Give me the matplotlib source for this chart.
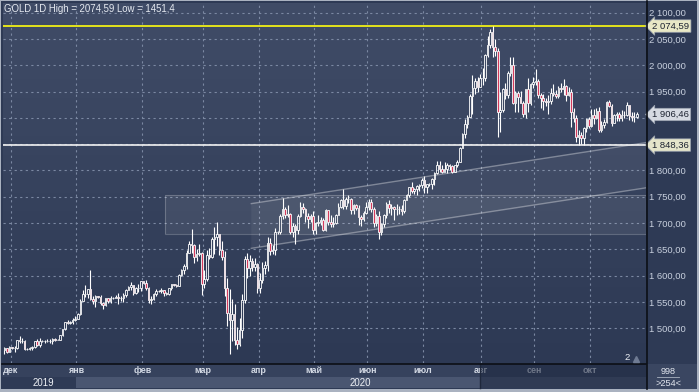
import numpy as np
import matplotlib.pyplot as plt
from matplotlib.patches import Rectangle, Polygon
from matplotlib.lines import Line2D
from matplotlib.colors import LinearSegmentedColormap
import matplotlib.transforms as mtransforms

plt.rcParams['font.family'] = ['Liberation Sans', 'DejaVu Sans']

# daily bars, 26 Nov 2019 .. 27 Oct 2020 (open = previous close)
first_open = 1459
closes = [
    1462, 1455, 1464, 1463, 1463, 1477, 1475, 1476, 1460, 1461,
    1462, 1465, 1475, 1469, 1476, 1475, 1476, 1475, 1475, 1479,
    1478, 1478, 1487, 1498, 1511, 1510, 1512, 1515, 1517, 1528,
    1552, 1566, 1566, 1574, 1556, 1552, 1562, 1560, 1548, 1545,
    1557, 1552, 1557, 1558, 1560, 1558, 1558, 1563, 1572, 1578,
    1582, 1567, 1576, 1576, 1589, 1586, 1577, 1553, 1556, 1566,
    1570, 1571, 1572, 1567, 1565, 1576, 1584, 1582, 1581, 1601,
    1611, 1619, 1643, 1660, 1658, 1636, 1642, 1643, 1585, 1594,
    1640, 1636, 1669, 1673, 1679, 1649, 1635, 1576, 1529, 1515,
    1527, 1478, 1471, 1497, 1553, 1631, 1614, 1628, 1616, 1622,
    1577, 1591, 1614, 1620, 1662, 1647, 1648, 1683, 1683, 1713,
    1727, 1716, 1717, 1683, 1695, 1686, 1714, 1730, 1726, 1713,
    1707, 1713, 1686, 1700, 1702, 1705, 1686, 1725, 1702, 1698,
    1701, 1716, 1730, 1743, 1733, 1745, 1746, 1724, 1735, 1729,
    1711, 1708, 1719, 1730, 1740, 1727, 1700, 1714, 1683, 1698,
    1715, 1737, 1728, 1731, 1726, 1727, 1727, 1723, 1743, 1754,
    1768, 1761, 1764, 1771, 1772, 1781, 1769, 1775, 1774, 1784,
    1795, 1810, 1803, 1798, 1802, 1810, 1808, 1797, 1810, 1817,
    1842, 1870, 1888, 1902, 1941, 1957, 1970, 1958, 1976, 1976,
    2019, 2039, 2063, 2035, 2028, 1912, 1915, 1954, 1944, 1986,
    2001, 1929, 1947, 1940, 1929, 1908, 1954, 1929, 1964, 1968,
    1970, 1944, 1938, 1933, 1930, 1932, 1947, 1946, 1941, 1957,
    1954, 1961, 1944, 1950, 1912, 1900, 1863, 1868, 1861, 1881,
    1898, 1885, 1905, 1900, 1914, 1877, 1887, 1893, 1930, 1922,
    1891, 1906, 1908, 1899, 1905, 1906, 1924, 1904, 1902, 1902, 1906.46,
]
highs = [
    1464, 1463, 1466, 1465, 1467, 1478, 1485, 1481, 1478, 1462,
    1465, 1467, 1476, 1480, 1481, 1477, 1478, 1480, 1479, 1481,
    1482, 1480, 1488, 1499, 1512, 1515, 1513, 1520, 1524, 1529,
    1555, 1573, 1582, 1575, 1611, 1561, 1563, 1562, 1563, 1550,
    1558, 1558, 1561, 1560, 1563, 1567, 1561, 1567, 1574, 1580,
    1588, 1582, 1578, 1584, 1590, 1590, 1592, 1578, 1561, 1567,
    1574, 1573, 1576, 1573, 1569, 1577, 1585, 1584, 1585, 1604,
    1612, 1623, 1649, 1666, 1689, 1660, 1651, 1660, 1645, 1610,
    1649, 1652, 1674, 1692, 1703, 1672, 1665, 1646, 1596, 1575,
    1555, 1547, 1502, 1519, 1565, 1637, 1643, 1640, 1633, 1634,
    1625, 1605, 1626, 1627, 1674, 1671, 1659, 1690, 1685, 1718,
    1747, 1730, 1735, 1720, 1700, 1698, 1718, 1740, 1738, 1729,
    1719, 1718, 1723, 1703, 1716, 1712, 1710, 1726, 1721, 1715,
    1711, 1718, 1738, 1745, 1765, 1749, 1753, 1747, 1736, 1737,
    1735, 1716, 1723, 1740, 1745, 1745, 1730, 1717, 1723, 1701,
    1718, 1740, 1744, 1737, 1732, 1736, 1733, 1734, 1746, 1756,
    1769, 1779, 1766, 1772, 1774, 1786, 1789, 1775, 1777, 1786,
    1797, 1818, 1818, 1810, 1817, 1814, 1813, 1811, 1811, 1820,
    1844, 1872, 1898, 1905, 1945, 1981, 1976, 1978, 1983, 1994,
    2021, 2055, 2069, 2074.59, 2050, 2033, 1950, 1956, 1967, 1989,
    2015, 2015, 1951, 1951, 1952, 1933, 1954, 1976, 1967, 1978,
    1992, 1974, 1948, 1946, 1937, 1943, 1957, 1964, 1953, 1960,
    1966, 1973, 1962, 1959, 1955, 1919, 1905, 1877, 1873, 1882,
    1899, 1901, 1916, 1917, 1918, 1921, 1894, 1898, 1933, 1934,
    1926, 1908, 1912, 1912, 1915, 1913, 1931, 1920, 1911, 1911, 1912,
]
lows = [
    1452, 1453, 1454, 1461, 1454, 1461, 1472, 1472, 1458, 1459,
    1458, 1459, 1462, 1466, 1464, 1474, 1472, 1473, 1472, 1471,
    1475, 1477, 1477, 1486, 1497, 1508, 1509, 1509, 1514, 1517,
    1525, 1552, 1560, 1558, 1553, 1546, 1541, 1558, 1545, 1536,
    1543, 1549, 1549, 1556, 1557, 1546, 1552, 1550, 1560, 1572,
    1572, 1564, 1566, 1569, 1571, 1584, 1573, 1548, 1547, 1553,
    1561, 1569, 1567, 1562, 1563, 1564, 1573, 1581, 1579, 1580,
    1599, 1603, 1613, 1646, 1644, 1625, 1628, 1637, 1563, 1576,
    1589, 1631, 1634, 1642, 1657, 1640, 1630, 1561, 1505, 1451.4,
    1476, 1469, 1460, 1466, 1482, 1549, 1595, 1600, 1608, 1609,
    1567, 1567, 1586, 1603, 1609, 1640, 1642, 1640, 1680, 1679,
    1707, 1710, 1712, 1680, 1674, 1660, 1679, 1711, 1720, 1703,
    1691, 1703, 1680, 1680, 1694, 1696, 1684, 1685, 1697, 1692,
    1692, 1698, 1715, 1728, 1727, 1726, 1739, 1717, 1718, 1725,
    1697, 1694, 1704, 1717, 1725, 1721, 1693, 1694, 1670, 1677,
    1693, 1709, 1719, 1716, 1705, 1716, 1718, 1716, 1720, 1744,
    1749, 1757, 1756, 1753, 1761, 1766, 1757, 1757, 1771, 1765,
    1772, 1794, 1797, 1795, 1797, 1796, 1801, 1795, 1797, 1806,
    1816, 1842, 1862, 1880, 1903, 1908, 1946, 1950, 1958, 1963,
    1971, 2016, 2033, 2015, 2017, 1863, 1874, 1911, 1936, 1938,
    1979, 1927, 1912, 1911, 1928, 1902, 1900, 1911, 1925, 1957,
    1963, 1937, 1919, 1915, 1922, 1907, 1926, 1942, 1937, 1938,
    1950, 1944, 1933, 1942, 1882, 1892, 1855, 1848, 1850, 1848,
    1873, 1881, 1883, 1889, 1897, 1873, 1873, 1881, 1890, 1920,
    1885, 1891, 1894, 1895, 1895, 1899, 1904, 1896, 1895, 1892, 1900,
]

month_names = ['дек', 'янв', 'фев', 'мар', 'апр', 'май', 'июн', 'июл', 'авг', 'сен', 'окт']
month_start = [3, 29, 55, 79, 101, 123, 144, 166, 189, 210, 232]  # bar index of 1st bar
year_names = ['2019', '2020']
year_start = [3, 29]

price_ticks = [1500, 1550, 1600, 1650, 1700, 1750, 1800, 1950, 2000, 2050, 2100]
grid_levels = [1500, 1550, 1600, 1650, 1700, 1750, 1800, 1850, 1900, 1950, 2000, 2050, 2100]
high_level = 2074.59
low_level = 1451.4
support_level = 1848.36
last_price = 1906.46

# drawn objects (bar index, price)
box_x0, box_lo, box_hi = 63.3, 1679, 1753
chan_x = (97.6, 253.6)
chan_upper = (1737, 1853)
chan_lower = (1652, 1767)

W, H = 699, 392
fig = plt.figure(figsize=(W / 100, H / 100), dpi=100)
fig.patch.set_facecolor('#aab2c0')


def frect(x0, y0, x1, y1, color, z=-1, alpha=1.0):
    fig.add_artist(Rectangle((x0 / W, 1 - y1 / H), (x1 - x0) / W, (y1 - y0) / H,
                             transform=fig.transFigure, facecolor=color,
                             edgecolor='none', zorder=z, alpha=alpha))


def fline(x0, y0, x1, y1, color, lw=1.0, z=6):
    fig.add_artist(Line2D([x0 / W, x1 / W], [1 - y0 / H, 1 - y1 / H],
                          transform=fig.transFigure, color=color, lw=lw, zorder=z))


# panels
frect(1, 1, 697, 389, '#2e3a55')
frect(2, 364, 646, 377, '#36425d')
frect(2, 377, 76, 388, '#2e3a55')
frect(76, 377, 646, 388, '#4a5671')
frect(647, 364, 697, 389, '#3a4661')

ax = fig.add_axes([3 / W, 1 - 363 / H, 643 / W, 360 / H])
xlim = (-0.55, 253.6)
ylim = (1434, 2118.4)
cmap = LinearSegmentedColormap.from_list('bg', ['#2d3954', '#404c67'])
ax.imshow(np.linspace(0, 1, 256).reshape(-1, 1), cmap=cmap, aspect='auto',
          extent=[xlim[0], xlim[1], ylim[0], ylim[1]], origin='lower', zorder=0)
ax.set_xlim(*xlim)
ax.set_ylim(*ylim)
for s in ax.spines.values():
    s.set_visible(False)

grid_kw = dict(color='#7b88a2', lw=0.8, ls=(0, (2, 3)), zorder=1)
for lv in grid_levels:
    ax.axhline(lv, **grid_kw)
for m in month_start:
    ax.axvline(m - 0.5, **grid_kw)

# rectangle + channel
ax.add_patch(Rectangle((box_x0, box_lo), xlim[1] - box_x0, box_hi - box_lo,
                       facecolor='white', alpha=0.07, edgecolor='none', zorder=1.5))
ax.add_patch(Rectangle((box_x0, box_lo), xlim[1] - box_x0, box_hi - box_lo,
                       facecolor='none', edgecolor=(1, 1, 1, 0.22), lw=0.8, zorder=1.6))
ax.add_patch(Polygon([(chan_x[0], chan_upper[0]), (chan_x[1], chan_upper[1]),
                      (chan_x[1], chan_lower[1]), (chan_x[0], chan_lower[0])],
                     facecolor='white', alpha=0.05, edgecolor='none', zorder=1.5))
ax.plot(chan_x, chan_upper, color=(1, 1, 1, 0.35), lw=1.0, zorder=1.7)
ax.plot(chan_x, chan_lower, color=(1, 1, 1, 0.35), lw=1.0, zorder=1.7)

ax.axhline(high_level, color='#e4e41c', lw=1.4, zorder=3)
ax.axhline(support_level, color='#f2f2f2', lw=1.2, zorder=3)

# candles
c = np.array(closes, dtype=float)
h = np.array(highs, dtype=float)
l = np.array(lows, dtype=float)
o = np.r_[first_open, c[:-1]]
x = np.arange(len(c))
top = np.maximum(o, c)
bot = np.minimum(o, c)
ax.vlines(x, top, np.maximum(h, top), color='white', lw=0.8, zorder=4)
ax.vlines(x, np.minimum(l, bot), bot, color='white', lw=0.8, zorder=4)
up = c >= o
ax.bar(x[up], (top - bot)[up], bottom=bot[up], width=0.62, facecolor='none',
       edgecolor='white', lw=0.6, zorder=5)
ax.bar(x[~up], (top - bot)[~up], bottom=bot[~up], width=0.62, facecolor='#d43a5c',
       edgecolor='white', lw=0.6, zorder=5)

# right price scale
ax.set_xticks([])
ax.yaxis.tick_right()
ax.set_yticks(price_ticks)
ax.set_yticklabels([f"{v:,.2f}".replace(',', ' ').replace('.', ',') for v in price_ticks])
ax.tick_params(axis='y', length=0, pad=2.5, labelsize=6.8, labelcolor='#c8d0de')

bt = mtransforms.blended_transform_factory(ax.transAxes, ax.transData)
for val, fc in [(high_level, '#e8e8c6'), (last_price, '#d6dae2'), (support_level, '#e4e4ca')]:
    ax.text(1.0095, val, f"{val:,.2f}".replace(',', ' ').replace('.', ','), transform=bt,
            ha='left', va='center', fontsize=6.8, color='#1c2230', clip_on=False, zorder=8,
            bbox=dict(boxstyle='larrow,pad=0.18', facecolor=fc, edgecolor='#9aa2b0', lw=0.5))

fig.text(4 / W, 1 - 8.5 / H,
         f"GOLD 1D High = {str(high_level).replace('.', ',')} Low = {str(low_level).replace('.', ',')}",
         fontsize=6.9, color='#e6eaf1', va='center', ha='left')

# date scale
def bar_px(j):
    return 4.38 + 2.53 * j

for name, m in zip(month_names, month_start):
    fig.text(max(bar_px(m - 0.5), 9) / W, 1 - 370.5 / H, name, fontsize=6.5, fontweight='bold',
             color='#d3d9e4', ha='center', va='center')
year_ends = year_start[1:] + [253.6]
for name, s, e in zip(year_names, year_start, year_ends):
    cx = (bar_px(s - 0.5) + bar_px(e - 0.5)) / 2
    fig.text(cx / W, 1 - 383 / H, name, fontsize=6.9, color='#eef1f6', ha='center', va='center')

# dimmed tail of the date scale
frect(480, 364, 646, 388, '#1c263d', z=5, alpha=0.55)
fline(480, 364, 480, 388, '#1f283c', lw=1.0)

fline(2, 363.5, 646, 363.5, '#0c0f16', lw=1.2)
fline(646.5, 1, 646.5, 389, '#0c0f16', lw=1.2)

fig.text(627 / W, 1 - 357 / H, '2', fontsize=6.8, color='#eef1f6', ha='center', va='center')
fig.add_artist(Line2D([636 / W], [1 - 359 / H], marker='^', markersize=4, color='#6f7b93',
                      transform=fig.transFigure, zorder=6))

fig.text(668 / W, 1 - 371 / H, '998', fontsize=6.6, color='#e2e6ee', ha='center', va='center')
fline(657, 377, 679, 377, '#aab2c0', lw=0.6)
fig.text(668 / W, 1 - 383 / H, '>254<', fontsize=6.6, color='#e2e6ee', ha='center', va='center')

fig.savefig('out.png', dpi=100, facecolor=fig.get_facecolor())
